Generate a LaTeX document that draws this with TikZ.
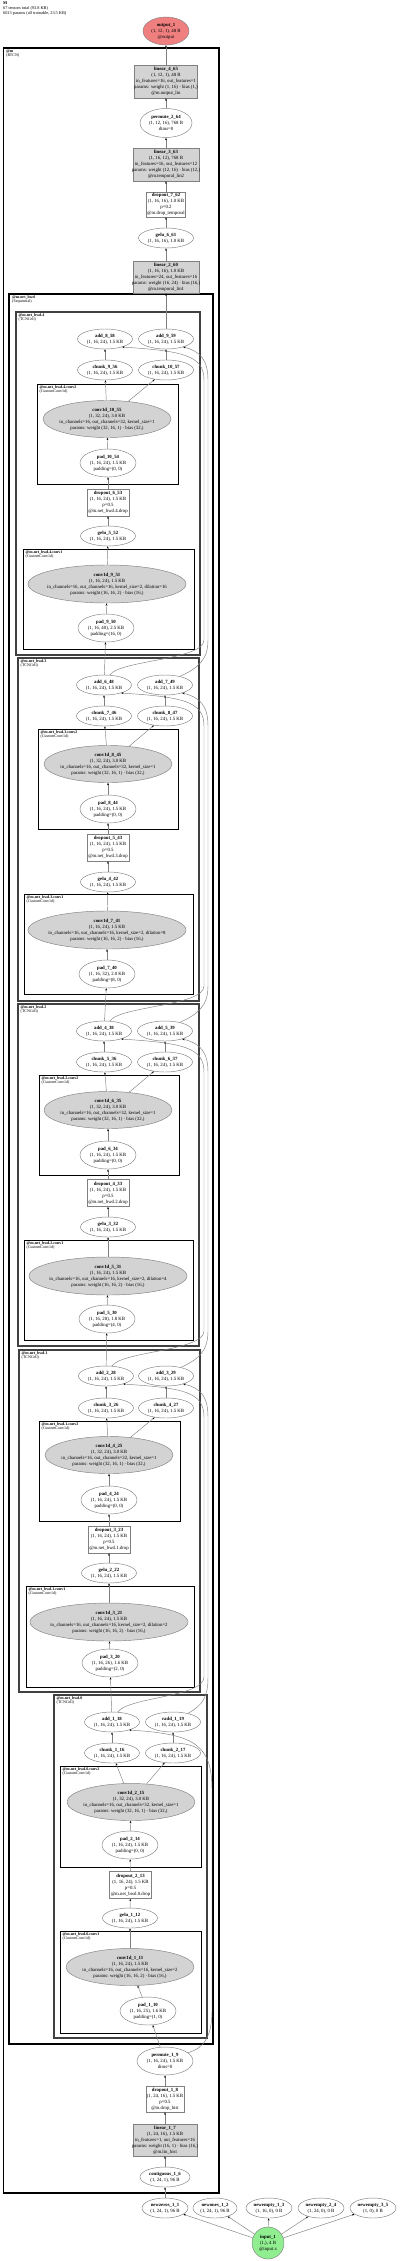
\documentclass[tikz,border=0pt]{standalone}
\usepackage{fontspec}
\setmainfont{Liberation Serif}
\usetikzlibrary{shapes.geometric,arrows.meta}
\definecolor{outpink}{HTML}{F08080}
\definecolor{ingreen}{HTML}{90EE90}
\definecolor{nodegray}{HTML}{D3D3D3}
\definecolor{edgegray}{HTML}{808080}
\begin{document}
\begin{tikzpicture}[x=1pt,y=-1pt,
 base/.style={font=\fontsize{4.8}{6}\selectfont, align=center, inner xsep=-40pt, inner ysep=0pt, line width=0.45pt, draw=edgegray},
 ell/.style={base, ellipse, fill=white},
 gell/.style={base, ellipse, fill=nodegray},
 wbox/.style={base, rectangle, fill=white},
 gbox/.style={base, rectangle, fill=nodegray},
 sm/.style={ell, minimum width=55pt, minimum height=20pt},
 padn/.style={ell, minimum width=56pt, minimum height=28pt},
 convA/.style={gell, minimum width=158pt, minimum height=38pt},
 convB/.style={gell, minimum width=128pt, minimum height=37pt},
 dropn/.style={wbox, minimum width=42pt, minimum height=27pt},
 edge/.style={draw=edgegray, line width=0.45pt, -{Stealth[length=2.4pt,width=1.8pt,color=black]}},
 clm/.style={draw=black, line width=1.6pt},
 clbwd/.style={draw=black, line width=1.3pt},
 clcell/.style={draw=black!75, line width=1.1pt},
 clconv/.style={draw=black, line width=0.8pt},
 clab/.style={anchor=north west, align=left, inner sep=0pt, font=\fontsize{4}{4.4}\selectfont}
]
\useasboundingbox (0,0) rectangle (400,2261);
\fill[white] (0,0) rectangle (400,2261);

% header
\node[anchor=north west, align=left, inner sep=0pt, font=\fontsize{4.3}{4.8}\selectfont] (hdr) at (3,1.5) {\textbf{M}\\67 tensors total (93.8 KB)\\6013 params (all trainable, 23.5 KB)};

% clusters
\draw[clm] (3.5,48) rectangle (219,2193);
\node[clab] (lab_m) at (6,49.5) {\textbf{@m}\\(RTCN)};
\draw[clbwd] (9,294) rectangle (213,2044);
\node[clab] (lab_bwd) at (12,295.5) {\textbf{@m.net\_bwd}\\(Sequential)};

\draw[clcell] (16,312) rectangle (200,655);
\node[clab] (lab_c4) at (18.5,313.5) {\textbf{@m.net\_bwd.4}\\(TCNCell)};
\draw[clconv] (37,384) rectangle (178,484);
\node[clab] (lab_c4b) at (39.5,385.5) {\textbf{@m.net\_bwd.4.conv2}\\(CustomConv1d)};
\draw[clconv] (23,549) rectangle (194,649);
\node[clab] (lab_c4a) at (25.5,550.5) {\textbf{@m.net\_bwd.4.conv1}\\(CustomConv1d)};

\draw[clcell] (18,658) rectangle (199,1001);
\node[clab] (lab_c3) at (20.5,659.5) {\textbf{@m.net\_bwd.3}\\(TCNCell)};
\draw[clconv] (38,729) rectangle (178,829);
\node[clab] (lab_c3b) at (40.5,730.5) {\textbf{@m.net\_bwd.3.conv2}\\(CustomConv1d)};
\draw[clconv] (24,894) rectangle (193,994);
\node[clab] (lab_c3a) at (26.5,895.5) {\textbf{@m.net\_bwd.3.conv1}\\(CustomConv1d)};

\draw[clcell] (18,1004) rectangle (199,1346);
\node[clab] (lab_c2) at (20.5,1005.5) {\textbf{@m.net\_bwd.2}\\(TCNCell)};
\draw[clconv] (39,1075) rectangle (179,1175);
\node[clab] (lab_c2b) at (41.5,1076.5) {\textbf{@m.net\_bwd.2.conv2}\\(CustomConv1d)};
\draw[clconv] (24,1240) rectangle (193,1340);
\node[clab] (lab_c2a) at (26.5,1241.5) {\textbf{@m.net\_bwd.2.conv1}\\(CustomConv1d)};

\draw[clcell] (19,1350) rectangle (200,1692);
\node[clab] (lab_c1) at (21.5,1351.5) {\textbf{@m.net\_bwd.1}\\(TCNCell)};
\draw[clconv] (39,1421) rectangle (180,1521);
\node[clab] (lab_c1b) at (41.5,1422.5) {\textbf{@m.net\_bwd.1.conv2}\\(CustomConv1d)};
\draw[clconv] (26,1586) rectangle (194,1687);
\node[clab] (lab_c1a) at (28.5,1587.5) {\textbf{@m.net\_bwd.1.conv1}\\(CustomConv1d)};

\draw[clcell] (54,1695) rectangle (207,2038);
\node[clab] (lab_c0) at (56.5,1696.5) {\textbf{@m.net\_bwd.0}\\(TCNCell)};
\draw[clconv] (60,1766) rectangle (201,1867);
\node[clab] (lab_c0b) at (62.5,1767.5) {\textbf{@m.net\_bwd.0.conv2}\\(CustomConv1d)};
\draw[clconv] (60,1931) rectangle (201,2033);
\node[clab] (lab_c0a) at (62.5,1932.5) {\textbf{@m.net\_bwd.0.conv1}\\(CustomConv1d)};

% top chain
\node[ell, fill=outpink, minimum width=46pt, minimum height=28pt] (output_1) at (166,31) {\textbf{output\_1}\\(1, 12, 1), 48 B\\@output};
\node[gbox, minimum width=63pt, minimum height=33pt] (linear_4_65) at (166,81.5) {\textbf{linear\_4\_65}\\(1, 12, 1), 48 B\\in\_features=16, out\_features=1\\params: weight (1, 16) · bias (1,)\\@m.output\_lin};
\node[ell, minimum width=52pt, minimum height=29pt] (permute_2_64) at (166,123) {\textbf{permute\_2\_64}\\(1, 12, 16), 768 B\\dims=0};
\node[gbox, minimum width=66pt, minimum height=33pt] (linear_3_63) at (166,164.5) {\textbf{linear\_3\_63}\\(1, 16, 12), 768 B\\in\_features=16, out\_features=12\\params: weight (12, 16) · bias (12,)\\@m.temporal\_lin2};
\node[wbox, minimum width=39pt, minimum height=25pt] (dropout_7_62) at (166,204.5) {\textbf{dropout\_7\_62}\\(1, 16, 16), 1.0 KB\\p=0.2\\@m.drop\_temporal};
\node[sm] (gelu_6_61) at (166,238) {\textbf{gelu\_6\_61}\\(1, 16, 16), 1.0 KB};
\node[gbox, minimum width=66pt, minimum height=32pt] (linear_2_60) at (166,277) {\textbf{linear\_2\_60}\\(1, 16, 16), 1.0 KB\\in\_features=24, out\_features=16\\params: weight (16, 24) · bias (16,)\\@m.temporal\_lin1};

% cell 4
\node[sm] (add_8_58) at (105,339) {\textbf{add\_8\_58}\\(1, 16, 24), 1.5 KB};
\node[sm] (add_9_59) at (166,339) {\textbf{add\_9\_59}\\(1, 16, 24), 1.5 KB};
\node[sm] (chunk_9_56) at (105,370) {\textbf{chunk\_9\_56}\\(1, 16, 24), 1.5 KB};
\node[sm] (chunk_10_57) at (166,370) {\textbf{chunk\_10\_57}\\(1, 16, 24), 1.5 KB};
\node[convB] (conv1d_10_55) at (107,419) {\textbf{conv1d\_10\_55}\\(1, 32, 24), 3.0 KB\\in\_channels=16, out\_channels=32, kernel\_size=1\\params: weight (32, 16, 1) · bias (32,)};
\node[padn] (pad_10_54) at (108,463) {\textbf{pad\_10\_54}\\(1, 16, 24), 1.5 KB\\padding=(0, 0)};
\node[dropn] (dropout_6_53) at (108,502.5) {\textbf{dropout\_6\_53}\\(1, 16, 24), 1.5 KB\\p=0.5\\@m.net\_bwd.4.drop};
\node[sm] (gelu_5_52) at (108,536) {\textbf{gelu\_5\_52}\\(1, 16, 24), 1.5 KB};
\node[convA] (conv1d_9_51) at (107,584) {\textbf{conv1d\_9\_51}\\(1, 16, 24), 1.5 KB\\in\_channels=16, out\_channels=16, kernel\_size=2, dilation=16\\params: weight (16, 16, 2) · bias (16,)};
\node[padn] (pad_9_50) at (106,628) {\textbf{pad\_9\_50}\\(1, 16, 40), 2.5 KB\\padding=(16, 0)};

% cell 3
\node[sm] (add_6_48) at (104,685) {\textbf{add\_6\_48}\\(1, 16, 24), 1.5 KB};
\node[sm] (add_7_49) at (165,685) {\textbf{add\_7\_49}\\(1, 16, 24), 1.5 KB};
\node[sm] (chunk_7_46) at (104,716) {\textbf{chunk\_7\_46}\\(1, 16, 24), 1.5 KB};
\node[sm] (chunk_8_47) at (165,716) {\textbf{chunk\_8\_47}\\(1, 16, 24), 1.5 KB};
\node[convB] (conv1d_8_45) at (108,764) {\textbf{conv1d\_8\_45}\\(1, 32, 24), 3.0 KB\\in\_channels=16, out\_channels=32, kernel\_size=1\\params: weight (32, 16, 1) · bias (32,)};
\node[padn] (pad_8_44) at (108,809) {\textbf{pad\_8\_44}\\(1, 16, 24), 1.5 KB\\padding=(0, 0)};
\node[dropn] (dropout_5_43) at (108,847.5) {\textbf{dropout\_5\_43}\\(1, 16, 24), 1.5 KB\\p=0.5\\@m.net\_bwd.3.drop};
\node[sm] (gelu_4_42) at (108,882) {\textbf{gelu\_4\_42}\\(1, 16, 24), 1.5 KB};
\node[convA] (conv1d_7_41) at (107,930) {\textbf{conv1d\_7\_41}\\(1, 16, 24), 1.5 KB\\in\_channels=16, out\_channels=16, kernel\_size=2, dilation=8\\params: weight (16, 16, 2) · bias (16,)};
\node[padn] (pad_7_40) at (107,974) {\textbf{pad\_7\_40}\\(1, 16, 32), 2.0 KB\\padding=(8, 0)};

% cell 2
\node[sm] (add_4_38) at (104,1031) {\textbf{add\_4\_38}\\(1, 16, 24), 1.5 KB};
\node[sm] (add_5_39) at (165,1031) {\textbf{add\_5\_39}\\(1, 16, 24), 1.5 KB};
\node[sm] (chunk_5_36) at (104,1062) {\textbf{chunk\_5\_36}\\(1, 16, 24), 1.5 KB};
\node[sm] (chunk_6_37) at (165,1062) {\textbf{chunk\_6\_37}\\(1, 16, 24), 1.5 KB};
\node[convB] (conv1d_6_35) at (108,1110) {\textbf{conv1d\_6\_35}\\(1, 32, 24), 3.0 KB\\in\_channels=16, out\_channels=32, kernel\_size=1\\params: weight (32, 16, 1) · bias (32,)};
\node[padn] (pad_6_34) at (108,1155) {\textbf{pad\_6\_34}\\(1, 16, 24), 1.5 KB\\padding=(0, 0)};
\node[dropn] (dropout_4_33) at (108,1193) {\textbf{dropout\_4\_33}\\(1, 16, 24), 1.5 KB\\p=0.5\\@m.net\_bwd.2.drop};
\node[sm] (gelu_3_32) at (108,1227) {\textbf{gelu\_3\_32}\\(1, 16, 24), 1.5 KB};
\node[convA] (conv1d_5_31) at (108,1276) {\textbf{conv1d\_5\_31}\\(1, 16, 24), 1.5 KB\\in\_channels=16, out\_channels=16, kernel\_size=2, dilation=4\\params: weight (16, 16, 2) · bias (16,)};
\node[padn] (pad_5_30) at (107,1319) {\textbf{pad\_5\_30}\\(1, 16, 28), 1.8 KB\\padding=(4, 0)};

% cell 1
\node[sm] (add_2_28) at (106,1376) {\textbf{add\_2\_28}\\(1, 16, 24), 1.5 KB};
\node[sm] (add_3_29) at (166,1376) {\textbf{add\_3\_29}\\(1, 16, 24), 1.5 KB};
\node[sm] (chunk_3_26) at (106,1408) {\textbf{chunk\_3\_26}\\(1, 16, 24), 1.5 KB};
\node[sm] (chunk_4_27) at (166,1408) {\textbf{chunk\_4\_27}\\(1, 16, 24), 1.5 KB};
\node[convB] (conv1d_4_25) at (109,1455) {\textbf{conv1d\_4\_25}\\(1, 32, 24), 3.0 KB\\in\_channels=16, out\_channels=32, kernel\_size=1\\params: weight (32, 16, 1) · bias (32,)};
\node[padn] (pad_4_24) at (109,1500) {\textbf{pad\_4\_24}\\(1, 16, 24), 1.5 KB\\padding=(0, 0)};
\node[dropn] (dropout_3_23) at (109,1539.5) {\textbf{dropout\_3\_23}\\(1, 16, 24), 1.5 KB\\p=0.5\\@m.net\_bwd.1.drop};
\node[sm] (gelu_2_22) at (109,1573) {\textbf{gelu\_2\_22}\\(1, 16, 24), 1.5 KB};
\node[convA] (conv1d_3_21) at (109,1622) {\textbf{conv1d\_3\_21}\\(1, 16, 24), 1.5 KB\\in\_channels=16, out\_channels=16, kernel\_size=2, dilation=2\\params: weight (16, 16, 2) · bias (16,)};
\node[padn] (pad_3_20) at (110,1663) {\textbf{pad\_3\_20}\\(1, 16, 26), 1.6 KB\\padding=(2, 0)};

% cell 0
\node[sm] (add_1_18) at (112,1722) {\textbf{add\_1\_18}\\(1, 16, 24), 1.5 KB};
\node[sm] (radd_1_19) at (173,1722) {\textbf{radd\_1\_19}\\(1, 16, 24), 1.5 KB};
\node[sm] (chunk_1_16) at (112,1753) {\textbf{chunk\_1\_16}\\(1, 16, 24), 1.5 KB};
\node[sm] (chunk_2_17) at (173,1753) {\textbf{chunk\_2\_17}\\(1, 16, 24), 1.5 KB};
\node[convB] (conv1d_2_15) at (131,1802) {\textbf{conv1d\_2\_15}\\(1, 32, 24), 3.0 KB\\in\_channels=16, out\_channels=32, kernel\_size=1\\params: weight (32, 16, 1) · bias (32,)};
\node[padn] (pad_2_14) at (130,1845) {\textbf{pad\_2\_14}\\(1, 16, 24), 1.5 KB\\padding=(0, 0)};
\node[dropn] (dropout_2_13) at (130.5,1885) {\textbf{dropout\_2\_13}\\(1, 16, 24), 1.5 KB\\p=0.5\\@m.net\_bwd.0.drop};
\node[sm] (gelu_1_12) at (130,1918) {\textbf{gelu\_1\_12}\\(1, 16, 24), 1.5 KB};
\node[convB] (conv1d_1_11) at (130,1967) {\textbf{conv1d\_1\_11}\\(1, 16, 24), 1.5 KB\\in\_channels=16, out\_channels=16, kernel\_size=2\\params: weight (16, 16, 2) · bias (16,)};
\node[padn] (pad_1_10) at (148,2011) {\textbf{pad\_1\_10}\\(1, 16, 25), 1.6 KB\\padding=(1, 0)};

% bottom chain
\node[padn] (permute_1_9) at (165,2061) {\textbf{permute\_1\_9}\\(1, 16, 24), 1.5 KB\\dims=0};
\node[wbox, minimum width=38pt, minimum height=26pt] (dropout_1_8) at (165,2099) {\textbf{dropout\_1\_8}\\(1, 24, 16), 1.5 KB\\p=0.5\\@m.drop\_hist};
\node[gbox, minimum width=64pt, minimum height=32pt] (linear_1_7) at (165,2140) {\textbf{linear\_1\_7}\\(1, 24, 16), 1.5 KB\\in\_features=1, out\_features=16\\params: weight (16, 1) · bias (16,)\\@m.lin\_hist};
\node[ell, minimum width=50pt, minimum height=20pt] (contiguous_1_6) at (165,2177) {\textbf{contiguous\_1\_6}\\(1, 24, 1), 96 B};
\node[ell, minimum width=46pt, minimum height=20pt] (newzeros_1_1) at (165,2208) {\textbf{newzeros\_1\_1}\\(1, 24, 1), 96 B};
\node[ell, minimum width=44pt, minimum height=20pt] (newones_1_2) at (215,2208) {\textbf{newones\_1\_2}\\(1, 24, 1), 96 B};
\node[ell, minimum width=46pt, minimum height=20pt] (newempty_1_3) at (269,2208) {\textbf{newempty\_1\_3}\\(1, 16, 0), 0 B};
\node[ell, minimum width=46pt, minimum height=20pt] (newempty_2_4) at (321,2208) {\textbf{newempty\_2\_4}\\(1, 24, 0), 0 B};
\node[ell, minimum width=46pt, minimum height=20pt] (newempty_3_5) at (373,2208) {\textbf{newempty\_3\_5}\\(1, 0), 0 B};
\node[ell, fill=ingreen, minimum width=32pt, minimum height=32pt] (input_1) at (268,2243) {\textbf{input\_1}\\(1,), 4 B\\@input.x};

% edges: top chain
\draw[edge] (linear_4_65) -- (output_1);
\draw[edge] (permute_2_64) -- (linear_4_65);
\draw[edge] (linear_3_63) -- (permute_2_64);
\draw[edge] (dropout_7_62) -- (linear_3_63);
\draw[edge] (gelu_6_61) -- (dropout_7_62);
\draw[edge] (linear_2_60) -- (gelu_6_61);
\draw[edge] (add_9_59) -- (linear_2_60);

% cell 4 edges
\draw[edge] (add_6_48) -- (pad_9_50);
\draw[edge] (pad_9_50) -- (conv1d_9_51);
\draw[edge] (conv1d_9_51) -- (gelu_5_52);
\draw[edge] (gelu_5_52) -- (dropout_6_53);
\draw[edge] (dropout_6_53) -- (pad_10_54);
\draw[edge] (pad_10_54) -- (conv1d_10_55);
\draw[edge] (conv1d_10_55) -- (chunk_9_56);
\draw[edge] (conv1d_10_55) -- (chunk_10_57);
\draw[edge] (chunk_9_56) -- (add_8_58);
\draw[edge] (chunk_10_57) -- (add_9_59);
\draw[edge] (add_6_48.60) .. controls (120,660) and (204,660) .. (204,640) -- (204,380) .. controls (204,355) and (182,351) .. (add_8_58.-25);
\draw[edge] (add_7_49.30) .. controls (198,668) and (208,660) .. (208,640) -- (208,380) .. controls (208,360) and (200,351) .. (add_9_59.-25);

% cell 3 edges
\draw[edge] (add_4_38) -- (pad_7_40);
\draw[edge] (pad_7_40) -- (conv1d_7_41);
\draw[edge] (conv1d_7_41) -- (gelu_4_42);
\draw[edge] (gelu_4_42) -- (dropout_5_43);
\draw[edge] (dropout_5_43) -- (pad_8_44);
\draw[edge] (pad_8_44) -- (conv1d_8_45);
\draw[edge] (conv1d_8_45) -- (chunk_7_46);
\draw[edge] (conv1d_8_45) -- (chunk_8_47);
\draw[edge] (chunk_7_46) -- (add_6_48);
\draw[edge] (chunk_8_47) -- (add_7_49);
\draw[edge] (add_4_38.60) .. controls (120,1006) and (204,1006) .. (204,986) -- (204,726) .. controls (204,701) and (182,697) .. (add_6_48.-25);
\draw[edge] (add_5_39.30) .. controls (198,1014) and (208,1006) .. (208,986) -- (208,726) .. controls (208,706) and (200,697) .. (add_7_49.-25);

% cell 2 edges
\draw[edge] (add_2_28) -- (pad_5_30);
\draw[edge] (pad_5_30) -- (conv1d_5_31);
\draw[edge] (conv1d_5_31) -- (gelu_3_32);
\draw[edge] (gelu_3_32) -- (dropout_4_33);
\draw[edge] (dropout_4_33) -- (pad_6_34);
\draw[edge] (pad_6_34) -- (conv1d_6_35);
\draw[edge] (conv1d_6_35) -- (chunk_5_36);
\draw[edge] (conv1d_6_35) -- (chunk_6_37);
\draw[edge] (chunk_5_36) -- (add_4_38);
\draw[edge] (chunk_6_37) -- (add_5_39);
\draw[edge] (add_2_28.60) .. controls (122,1351) and (204,1351) .. (204,1331) -- (204,1072) .. controls (204,1047) and (182,1043) .. (add_4_38.-25);
\draw[edge] (add_3_29.30) .. controls (199,1359) and (208,1351) .. (208,1331) -- (208,1072) .. controls (208,1052) and (200,1043) .. (add_5_39.-25);

% cell 1 edges
\draw[edge] (add_1_18) -- (pad_3_20);
\draw[edge] (pad_3_20) -- (conv1d_3_21);
\draw[edge] (conv1d_3_21) -- (gelu_2_22);
\draw[edge] (gelu_2_22) -- (dropout_3_23);
\draw[edge] (dropout_3_23) -- (pad_4_24);
\draw[edge] (pad_4_24) -- (conv1d_4_25);
\draw[edge] (conv1d_4_25) -- (chunk_3_26);
\draw[edge] (conv1d_4_25) -- (chunk_4_27);
\draw[edge] (chunk_3_26) -- (add_2_28);
\draw[edge] (chunk_4_27) -- (add_3_29);
\draw[edge] (add_1_18.60) .. controls (128,1697) and (204,1697) .. (204,1677) -- (204,1417) .. controls (204,1392) and (184,1388) .. (add_2_28.-25);
\draw[edge] (radd_1_19.30) .. controls (203,1705) and (208,1697) .. (208,1677) -- (208,1417) .. controls (208,1397) and (201,1388) .. (add_3_29.-25);

% cell 0 edges
\draw[edge] (permute_1_9) -- (pad_1_10);
\draw[edge] (pad_1_10) -- (conv1d_1_11);
\draw[edge] (conv1d_1_11) -- (gelu_1_12);
\draw[edge] (gelu_1_12) -- (dropout_2_13);
\draw[edge] (dropout_2_13) -- (pad_2_14);
\draw[edge] (pad_2_14) -- (conv1d_2_15);
\draw[edge] (conv1d_2_15) -- (chunk_1_16);
\draw[edge] (conv1d_2_15) -- (chunk_2_17);
\draw[edge] (chunk_1_16) -- (add_1_18);
\draw[edge] (chunk_2_17) -- (radd_1_19);
\draw[edge] (permute_1_9.20) .. controls (205,2048) and (212,2035) .. (212,2010) -- (212,1790) .. controls (212,1745) and (195,1734) .. (add_1_18.-25);

% bottom edges
\draw[edge] (dropout_1_8) -- (permute_1_9);
\draw[edge] (linear_1_7) -- (dropout_1_8);
\draw[edge] (contiguous_1_6) -- (linear_1_7);
\draw[edge] (newzeros_1_1) -- (contiguous_1_6);
\draw[edge] (input_1) -- (newzeros_1_1);
\draw[edge] (input_1) -- (newones_1_2);
\draw[edge] (input_1) -- (newempty_1_3);
\draw[edge] (input_1) -- (newempty_2_4);
\draw[edge] (input_1) -- (newempty_3_5);
\end{tikzpicture}
\end{document}
